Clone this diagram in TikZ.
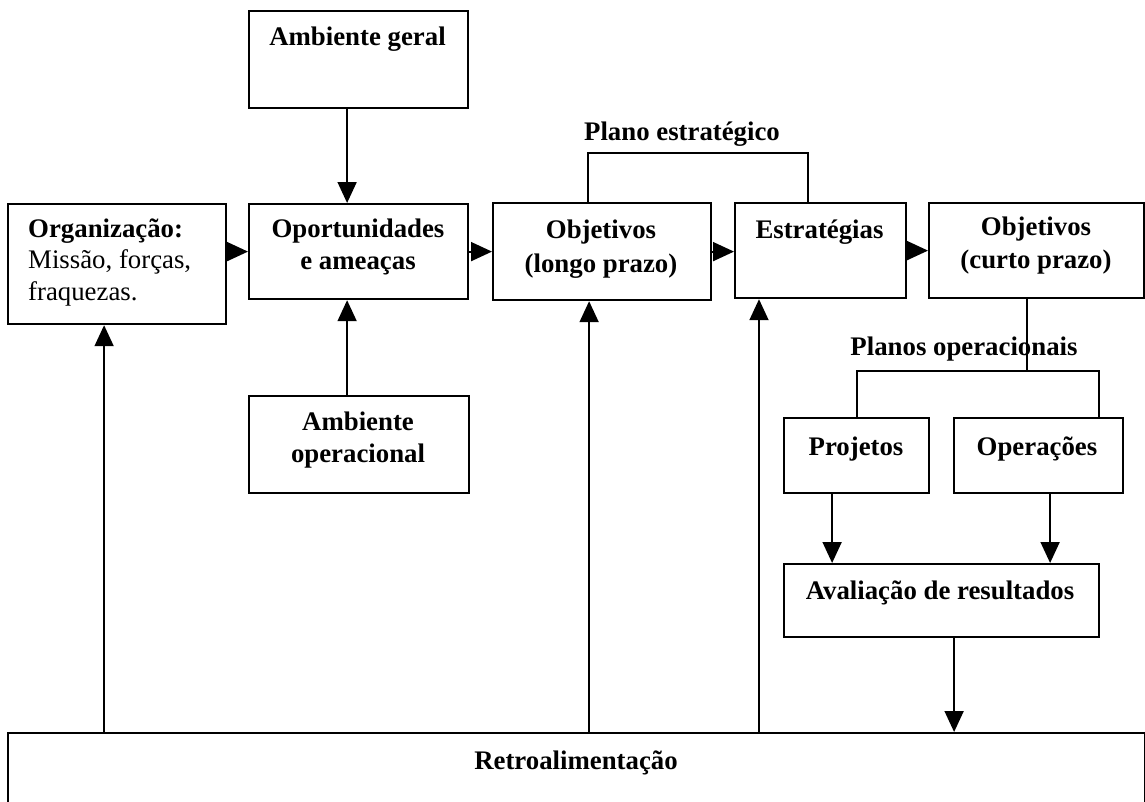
\documentclass[tikz,border=0pt]{standalone}
\usepackage{fontspec}
\setmainfont{Liberation Serif}
\usetikzlibrary{arrows.meta}
\begin{document}
\begin{tikzpicture}[x=1pt,y=-1pt,
  box/.style={draw, line width=2.2pt, rectangle, inner sep=0pt, anchor=north west},
  lbl/.style={font=\fontsize{26.8}{32}\selectfont\bfseries, anchor=base, inner sep=0pt},
  lblleft/.style={font=\fontsize{26.8}{32}\selectfont, anchor=base west, inner sep=0pt},
  arr/.style={line width=1.8pt, -{Triangle[length=21pt,width=19pt]}},
  link/.style={line width=1.8pt}]
\useasboundingbox (0,0) rectangle (1145,801);
\clip (0,0) rectangle (1145,801);

% boxes
\node[box, minimum width=219pt, minimum height=97pt]  (geral) at (248,10) {};
\node[box, minimum width=218pt, minimum height=120pt] (org)   at (7,203) {};
\node[box, minimum width=219pt, minimum height=95pt]  (opo)   at (248,203) {};
\node[box, minimum width=218pt, minimum height=97pt]  (objl)  at (492,202) {};
\node[box, minimum width=171pt, minimum height=95pt]  (estr)  at (734,202) {};
\node[box, minimum width=215pt, minimum height=95pt]  (objc)  at (928,202) {};
\node[box, minimum width=220pt, minimum height=97pt]  (aop)   at (248,395) {};
\node[box, minimum width=145pt, minimum height=75pt]  (proj)  at (783,417) {};
\node[box, minimum width=169pt, minimum height=75pt]  (oper)  at (953,417) {};
\node[box, minimum width=315pt, minimum height=73pt]  (aval)  at (783,563) {};
\node[box, minimum width=1137pt, minimum height=120pt] (retro) at (7,732) {};

% box texts
\node[lbl] (geral-t) at (357.5,45) {Ambiente geral};
\node[lblleft, font=\fontsize{26.8}{32}\selectfont\bfseries] (org-t1) at (28,237) {Organização:};
\node[lblleft] (org-t2) at (28,268) {Missão, forças,};
\node[lblleft] (org-t3) at (28,300) {fraquezas.};
\node[lbl] (opo-t1) at (358,237) {Oportunidades};
\node[lbl] (opo-t2) at (358,269) {e ameaças};
\node[lbl] (objl-t1) at (601,238) {Objetivos};
\node[lbl] (objl-t2) at (601,272) {(longo prazo)};
\node[lbl] (estr-t) at (819.5,238) {Estratégias};
\node[lbl] (objc-t1) at (1036,235) {Objetivos};
\node[lbl] (objc-t2) at (1036,268) {(curto prazo)};
\node[lbl] (aop-t1) at (358,430) {Ambiente};
\node[lbl] (aop-t2) at (358,462) {operacional};
\node[lbl] (proj-t) at (856,455) {Projetos};
\node[lbl] (oper-t) at (1037,455) {Operações};
\node[lbl] (aval-t) at (940,599) {Avaliação de resultados};
\node[lbl] (retro-t) at (576,769) {Retroalimentação};

% group labels
\node[lbl] (plano) at (682,140) {Plano estratégico};
\node[lbl] (planos) at (964,355) {Planos operacionais};

% main chain
\draw[arr] (org.east |- opo.west) -- (opo.west);
\draw[arr] (opo.east) -- (opo.east -| objl.west);
\draw[arr] (objl.east) -- (objl.east -| estr.west);
\draw[arr] (estr.east) -- (estr.east -| objc.west);

% environment inputs
\coordinate (g1) at ([xshift=-11.5pt]geral.south);
\draw[arr] (g1) -- (g1 |- opo.north);
\coordinate (a1) at ([xshift=-12pt]aop.north);
\draw[arr] (a1) -- (a1 |- opo.south);

% strategic plan bracket
\coordinate (p1) at ([xshift=-14pt]objl.north);
\coordinate (p2) at ([xshift=-12.5pt]estr.north);
\draw[link] (p1) -- ++(0,-49) -| (p2);

% operational plans branch
\coordinate (q1) at ([xshift=-9.5pt]objc.south);
\draw[link] (q1) -- ++(0,72) coordinate (q2);
\coordinate (q3) at ([xshift=60.5pt]oper.north);
\draw[link] (proj.north) -- (proj.north |- q2) -- (q3 |- q2) -- (q3);

% evaluation
\coordinate (r1) at ([xshift=-24.5pt]proj.south);
\draw[arr] (r1) -- (r1 |- aval.north);
\coordinate (r2) at ([xshift=11.5pt]oper.south);
\draw[arr] (r2) -- (r2 |- aval.north);
\coordinate (r3) at ([xshift=12.5pt]aval.south);
\draw[arr] (r3) -- (r3 |- retro.north);

% feedback
\coordinate (f1) at ([xshift=-13pt]org.south);
\draw[arr] (f1 |- retro.north) -- (f1);
\coordinate (f2) at ([xshift=-13pt]objl.south);
\draw[arr] (f2 |- retro.north) -- (f2);
\coordinate (f3) at ([xshift=25pt]estr.south west);
\draw[arr] (f3 |- retro.north) -- (f3);
\end{tikzpicture}
\end{document}
